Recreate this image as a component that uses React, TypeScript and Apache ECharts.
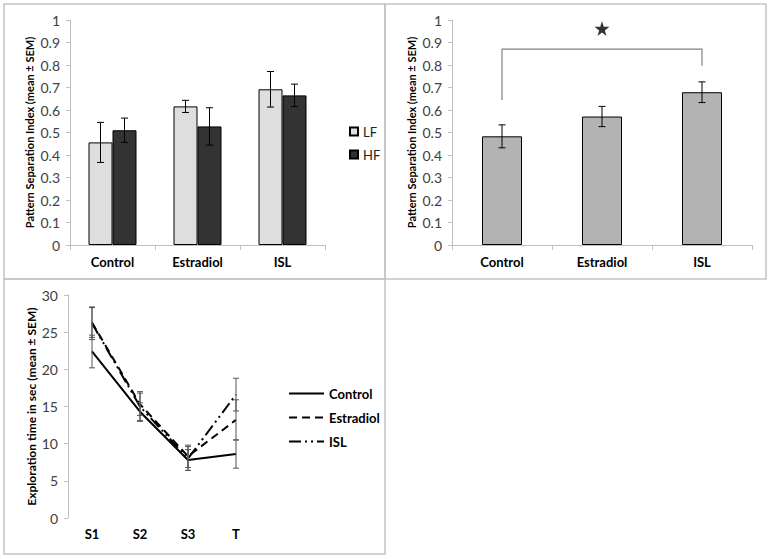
import React, { useEffect, useRef } from "react";
import * as echarts from "echarts";

// ---- Data ----
const barCategories = ["Control", "Estradiol", "ISL"];
const lfMeans = [0.456, 0.616, 0.692];
const lfSem = [0.089, 0.027, 0.079];
const hfMeans = [0.51, 0.527, 0.665];
const hfSem = [0.054, 0.083, 0.05];

const combinedMeans = [0.483, 0.571, 0.679];
const combinedSem = [0.051, 0.045, 0.046];
const bracketPoints: [string, number][] = [
  ["Control", 0.644],
  ["Control", 0.871],
  ["ISL", 0.871],
  ["ISL", 0.797],
];
const starPoint: [string, number] = ["Estradiol", 0.962];

const sessions = ["S1", "S2", "S3", "T"];
const controlTime = [22.4, 14.3, 7.8, 8.6];
const controlSem = [2.2, 1.2, 1.4, 1.9];
const estradiolTime = [26.3, 15.3, 8.3, 13.2];
const estradiolSem = [2.0, 1.5, 1.5, 2.7];
const islTime = [26.2, 15.0, 8.0, 16.6];
const islSem = [2.2, 2.0, 1.6, 2.2];

const FONT = "Lato, 'Open Sans', sans-serif";
const AXIS_GRAY = "#bfbfbf";
const LABEL_GRAY = "#404040";

const errData = (means: number[], sems: number[]) =>
  means.map((m, i) => [i, m - sems[i], m + sems[i]]);

const errorRender = (offset: number, cap: number, color: string) => (params: any, api: any) => {
  const x = api.value(0);
  const lo = api.coord([x, api.value(1)]);
  const hi = api.coord([x, api.value(2)]);
  const px = lo[0] + offset;
  const style = { stroke: color, lineWidth: 1 };
  return {
    type: "group",
    children: [
      { type: "line", shape: { x1: px, y1: lo[1], x2: px, y2: hi[1] }, style },
      { type: "line", shape: { x1: px - cap, y1: lo[1], x2: px + cap, y2: lo[1] }, style },
      { type: "line", shape: { x1: px - cap, y1: hi[1], x2: px + cap, y2: hi[1] }, style },
    ],
  };
};

const catAxis = (gridIndex: number, data: string[], showLine: boolean, margin: number) => ({
  type: "category",
  gridIndex,
  data,
  boundaryGap: true,
  axisLine: { show: showLine, lineStyle: { color: AXIS_GRAY, width: 1 } },
  axisTick: { show: showLine, length: 5, lineStyle: { color: AXIS_GRAY } },
  axisLabel: { fontFamily: FONT, fontWeight: "bold", fontSize: 13, color: "#000", margin },
});

const valAxis = (gridIndex: number, max: number, interval: number, name: string, nameGap: number, nameSize: number) => ({
  type: "value",
  gridIndex,
  min: 0,
  max,
  interval,
  name,
  nameLocation: "middle",
  nameGap,
  nameRotate: 90,
  nameTextStyle: { fontFamily: FONT, fontWeight: "bold", fontSize: nameSize, color: "#000" },
  splitLine: { show: false },
  axisLine: { show: true, lineStyle: { color: AXIS_GRAY, width: 1 } },
  axisTick: { show: true, length: 4, lineStyle: { color: AXIS_GRAY } },
  axisLabel: { fontFamily: FONT, fontSize: 14, color: LABEL_GRAY, margin: 10 },
});

export default function App() {
  const ref = useRef<HTMLDivElement>(null);

  useEffect(() => {
    if (!ref.current) return;
    const chart = echarts.init(ref.current, undefined, { renderer: "svg" });
    const starPath =
      "path://M50,0 L61,35 L98,35 L68,57 L79,91 L50,70 L21,91 L32,57 L2,35 L39,35 Z";

    chart.setOption({
      animation: false,
      backgroundColor: "#ffffff",
      textStyle: { fontFamily: FONT },
      graphic: [
        { type: "rect", shape: { x: 4, y: 4, width: 381, height: 275 }, style: { fill: "none", stroke: "#c4c4c4", lineWidth: 1.5 } },
        { type: "rect", shape: { x: 385, y: 4, width: 381, height: 275 }, style: { fill: "none", stroke: "#c4c4c4", lineWidth: 1.5 } },
        { type: "rect", shape: { x: 4, y: 279, width: 381, height: 275 }, style: { fill: "none", stroke: "#c4c4c4", lineWidth: 1.5 } },
      ],
      grid: [
        { left: 70, top: 20, width: 255, height: 225 },
        { left: 452, top: 20, width: 300, height: 225 },
        { left: 68, top: 295, width: 192, height: 223 },
      ],
      xAxis: [
        catAxis(0, barCategories, true, 10),
        catAxis(1, barCategories, true, 10),
        catAxis(2, sessions, false, 9),
      ],
      yAxis: [
        valAxis(0, 1, 0.1, "Pattern Separation Index (mean ± SEM)", 35, 11),
        valAxis(1, 1, 0.1, "Pattern Separation Index (mean ± SEM)", 35, 11),
        valAxis(2, 30, 5, "Exploration time in sec (mean ± SEM)", 31, 12),
      ],
      legend: [
        {
          data: ["LF", "HF"],
          orient: "vertical",
          left: 344,
          top: 120,
          icon: "rect",
          itemWidth: 8,
          itemHeight: 8,
          itemGap: 10,
          textStyle: { fontFamily: FONT, fontSize: 13, color: "#222" },
        },
        {
          data: ["Control", "Estradiol", "ISL"],
          orient: "vertical",
          left: 283,
          top: 382,
          itemWidth: 35,
          itemHeight: 14,
          itemGap: 11,
          itemStyle: { opacity: 0 },
          textStyle: { fontFamily: FONT, fontSize: 13, fontWeight: "bold", color: "#000" },
        },
      ],
      series: [
        {
          name: "LF",
          type: "bar",
          xAxisIndex: 0,
          yAxisIndex: 0,
          data: lfMeans,
          barWidth: 24,
          barGap: "0%",
          itemStyle: { color: "#dedede", borderColor: "#000", borderWidth: 1 },
        },
        {
          name: "HF",
          type: "bar",
          xAxisIndex: 0,
          yAxisIndex: 0,
          data: hfMeans,
          barWidth: 24,
          barGap: "0%",
          itemStyle: { color: "#333333", borderColor: "#000", borderWidth: 1 },
        },
        {
          type: "custom",
          xAxisIndex: 0,
          yAxisIndex: 0,
          encode: { x: 0, y: [1, 2] },
          data: errData(lfMeans, lfSem),
          renderItem: errorRender(-12, 3.5, "#000"),
          z: 5,
        },
        {
          type: "custom",
          xAxisIndex: 0,
          yAxisIndex: 0,
          encode: { x: 0, y: [1, 2] },
          data: errData(hfMeans, hfSem),
          renderItem: errorRender(12, 3.5, "#000"),
          z: 5,
        },
        {
          name: "Combined",
          type: "bar",
          xAxisIndex: 1,
          yAxisIndex: 1,
          data: combinedMeans,
          barWidth: 40,
          itemStyle: { color: "#b3b3b3", borderColor: "#000", borderWidth: 1 },
        },
        {
          type: "custom",
          xAxisIndex: 1,
          yAxisIndex: 1,
          encode: { x: 0, y: [1, 2] },
          data: errData(combinedMeans, combinedSem),
          renderItem: errorRender(0, 3.5, "#000"),
          z: 5,
        },
        {
          name: "Bracket",
          type: "line",
          xAxisIndex: 1,
          yAxisIndex: 1,
          data: bracketPoints,
          symbol: "none",
          lineStyle: { color: "#808080", width: 1.2 },
          itemStyle: { color: "#808080" },
        },
        {
          name: "Star",
          type: "scatter",
          xAxisIndex: 1,
          yAxisIndex: 1,
          data: [starPoint],
          symbol: starPath,
          symbolSize: 15,
          itemStyle: { color: "#000" },
        },
        {
          name: "Control",
          type: "line",
          xAxisIndex: 2,
          yAxisIndex: 2,
          data: controlTime,
          symbol: "none",
          lineStyle: { color: "#000", width: 2, type: "solid" },
          itemStyle: { color: "#000" },
        },
        {
          name: "Estradiol",
          type: "line",
          xAxisIndex: 2,
          yAxisIndex: 2,
          data: estradiolTime,
          symbol: "none",
          lineStyle: { color: "#000", width: 2, type: [8, 5] },
          itemStyle: { color: "#000" },
        },
        {
          name: "ISL",
          type: "line",
          xAxisIndex: 2,
          yAxisIndex: 2,
          data: islTime,
          symbol: "none",
          lineStyle: { color: "#000", width: 2, type: [12, 4, 2, 4, 2, 4] },
          itemStyle: { color: "#000" },
        },
        {
          type: "custom",
          xAxisIndex: 2,
          yAxisIndex: 2,
          encode: { x: 0, y: [1, 2] },
          data: errData(controlTime, controlSem),
          renderItem: errorRender(0, 3, "#555"),
          z: 5,
        },
        {
          type: "custom",
          xAxisIndex: 2,
          yAxisIndex: 2,
          encode: { x: 0, y: [1, 2] },
          data: errData(estradiolTime, estradiolSem),
          renderItem: errorRender(0, 3, "#555"),
          z: 5,
        },
        {
          type: "custom",
          xAxisIndex: 2,
          yAxisIndex: 2,
          encode: { x: 0, y: [1, 2] },
          data: errData(islTime, islSem),
          renderItem: errorRender(0, 3, "#555"),
          z: 5,
        },
      ],
    });

    return () => chart.dispose();
  }, []);

  return (
    <div
      ref={ref}
      style={{ position: "absolute", left: 0, top: 0, width: 771, height: 559, background: "#fff" }}
    />
  );
}
